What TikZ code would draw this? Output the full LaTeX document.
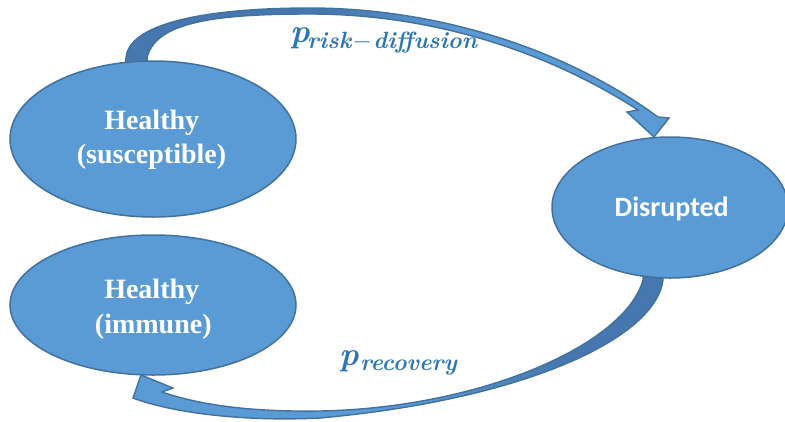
\documentclass[tikz,border=0pt]{standalone}
\usepackage{fontspec}
\usetikzlibrary{shapes.geometric}
\newfontfamily\timesbold{Liberation Serif}
\newfontfamily\calibribold{Carlito}
\definecolor{blobfill}{RGB}{91,155,213}
\definecolor{blobedge}{RGB}{65,113,156}
\definecolor{banddark}{RGB}{70,120,175}
\definecolor{bandlight}{RGB}{91,155,213}
\definecolor{probcol}{RGB}{46,117,182}
% band fills: dark near the root of each arrow, light towards the head
\pgfdeclarehorizontalshading{topband}{100bp}{color(0bp)=(banddark); color(44bp)=(banddark); color(56bp)=(bandlight); color(100bp)=(bandlight)}
\pgfdeclarehorizontalshading{bottomband}{100bp}{color(0bp)=(bandlight); color(52bp)=(bandlight); color(65bp)=(banddark); color(100bp)=(banddark)}
\tikzset{
  blob/.style={ellipse, draw=blobedge, fill=blobfill, line width=1.5pt, inner sep=0pt},
  band/.style={draw=blobedge, line width=1.4pt, line join=miter},
  serifword/.style={text=white, font=\fontsize{28}{28}\selectfont\timesbold\bfseries, inner sep=0pt, anchor=base},
  sansword/.style={text=white, font=\fontsize{28}{28}\selectfont\calibribold\bfseries, inner sep=0pt, anchor=base},
  probmain/.style={text=probcol, font=\fontsize{33}{33}\selectfont\bfseries\itshape, inner sep=0pt, anchor=base west},
  probsub/.style={text=probcol, font=\fontsize{23.5}{23.5}\selectfont\bfseries\itshape, inner sep=0pt, anchor=base west}
}
\begin{document}
\begin{tikzpicture}[x=1pt,y=-1pt]
\useasboundingbox (0,0) rectangle (785,421);

% curved arrow: susceptible -> disrupted
\shadedraw[shading=topband, band]
  (125,68) -- (126,58) .. controls (128,25) and (200,8) .. (310,8)
  .. controls (430,8) and (560,45) .. (658,117)
  -- (669,118) -- (654,137) -- (627,112) -- (638,110)
  .. controls (545,50) and (430,14) .. (310,14)
  .. controls (215,14) and (155,22) .. (147,58) -- (148,68) -- cycle;

% curved arrow: disrupted -> immune
\shadedraw[shading=bottomband, band]
  (663,270) -- (663,280) .. controls (655,340) and (520,400) .. (320,418)
  .. controls (240,422) and (170,412) .. (133,398)
  -- (141,375) -- (173,388) -- (162,392)
  .. controls (200,405) and (250,412) .. (320,411)
  .. controls (480,408) and (625,345) .. (643,280) -- (643,270) -- cycle;

% states
\node[blob, minimum width=286pt, minimum height=156pt] (sus) at (153,139) {};
\node[blob, minimum width=286pt, minimum height=140pt] (imm) at (153,305) {};
\node[blob, minimum width=236pt, minimum height=141pt] (dis) at (670,207.5) {};

\node[serifword] (susA) at (151.7,129.3) {Healthy};
\node[serifword] (susB) at (151.5,163.3) {(susceptible)};
\node[serifword] (immA) at (151.7,298.3) {Healthy};
\node[serifword] (immB) at (153.3,333.3) {(immune)};
\node[sansword] (disA) at (671.7,216.7) {Disrupted};

% transition probabilities
\begin{scope}
  \clip (0,0) rectangle (482,421);
  \node[probmain] (pd) at (290,42) {p};
  \node[probsub] (pdsub) at (307,48) {\addfontfeatures{LetterSpace=8}risk\hspace{0.06em}\mbox{$-$}\hspace{0.06em}diffusion};
\end{scope}
\node[probmain] (pr) at (339,365) {p};
\node[probsub] (prsub) at (360,370) {recovery};
\end{tikzpicture}
\end{document}
